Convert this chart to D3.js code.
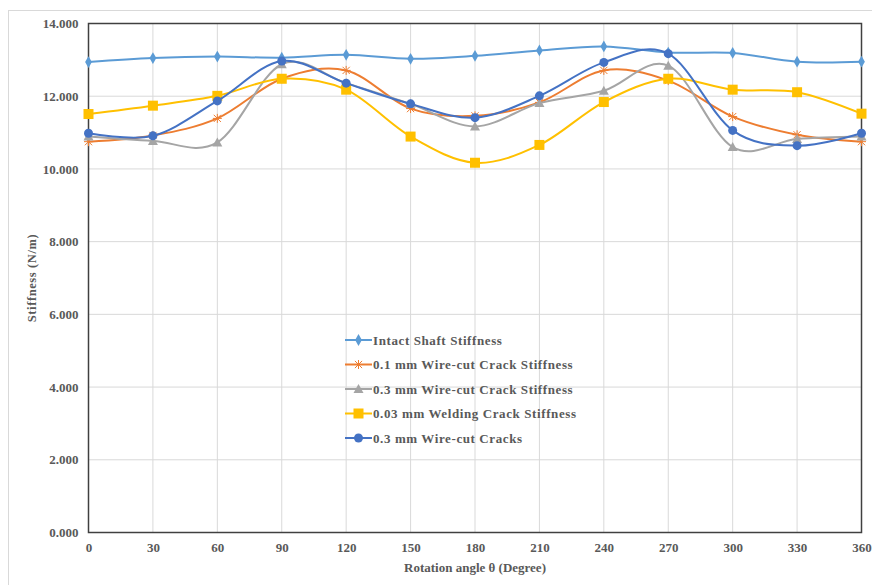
<!DOCTYPE html>
<html><head><meta charset="utf-8">
<script src="https://cdn.jsdelivr.net/npm/d3@7"></script>
<style>body{margin:0;background:#fff}svg{display:block}
text{font-family:"Liberation Serif","Times New Roman",serif;font-weight:bold;fill:#595959}</style>
</head><body><svg id="c" width="872" height="585"></svg>
<script>
const angles = [0,30,60,90,120,150,180,210,240,270,300,330,360];
const intact = [12.94,13.05,13.09,13.06,13.14,13.03,13.11,13.26,13.37,13.20,13.19,12.95,12.95];
const crack01 = [10.75,10.92,11.39,12.48,12.71,11.66,11.46,11.83,12.71,12.43,11.44,10.94,10.75];
const crack03 = [10.89,10.77,10.73,12.88,12.36,11.79,11.17,11.81,12.15,12.84,10.60,10.82,10.89];
const welding = [11.51,11.74,12.01,12.48,12.18,10.89,10.17,10.66,11.84,12.48,12.18,12.11,11.52];
const cracks03 = [10.98,10.91,11.87,12.97,12.36,11.79,11.41,12.01,12.93,13.17,11.06,10.64,10.98];
const seriesNames = ["Intact Shaft Stiffness","0.1 mm Wire-cut Crack Stiffness","0.3 mm Wire-cut Crack Stiffness","0.03 mm Welding Crack Stiffness","0.3 mm Wire-cut Cracks"];
const yTicks = [0,2,4,6,8,10,12,14];

const series = [
  {name:seriesNames[0], values:intact, color:"#5B9BD5", marker:"diamond"},
  {name:seriesNames[1], values:crack01, color:"#ED7D31", marker:"star"},
  {name:seriesNames[2], values:crack03, color:"#A5A5A5", marker:"triangle"},
  {name:seriesNames[3], values:welding, color:"#FFC000", marker:"square"},
  {name:seriesNames[4], values:cracks03, color:"#4472C4", marker:"circle"}
];

const svg = d3.select("#c");
const L=88.5, R=861.5, T=23.5, B=532.5;
const x = d3.scaleLinear().domain([0,360]).range([L,R]);
const y = d3.scaleLinear().domain([0,14]).range([B,T]);

svg.append("rect").attr("x",8.5).attr("y",10.5).attr("width",900).attr("height",600)
  .attr("fill","#fff").attr("stroke","#d9d9d9");

// grid
svg.append("g").selectAll("line").data(angles).join("line")
  .attr("x1",d=>x(d)).attr("x2",d=>x(d)).attr("y1",T).attr("y2",B)
  .attr("stroke","#d9d9d9").attr("stroke-width",1);
svg.append("g").selectAll("line").data(yTicks).join("line")
  .attr("x1",L).attr("x2",R).attr("y1",d=>y(d)).attr("y2",d=>y(d))
  .attr("stroke","#d9d9d9").attr("stroke-width",1);

// axes
const xAxis = d3.axisBottom(x).tickValues(angles).tickSize(0).tickPadding(10).tickFormat(d3.format("d"));
const gx = svg.append("g").attr("transform",`translate(0,${B})`).call(xAxis);
gx.attr("font-family",null).attr("font-size",null);
gx.select(".domain").remove();
gx.selectAll("text").style("font-size","13px");
const yAxis = d3.axisLeft(y).tickValues(yTicks).tickSize(0).tickPadding(10).tickFormat(d3.format(".3f"));
const gy = svg.append("g").attr("transform",`translate(${L},0)`).call(yAxis);
gy.attr("font-family",null).attr("font-size",null);
gy.select(".domain").remove();
gy.selectAll("text").style("font-size","13px");

svg.append("rect").attr("x",L).attr("y",T).attr("width",R-L).attr("height",B-T)
  .attr("fill","none").attr("stroke","#404040").attr("stroke-width",1.5);

// titles
svg.append("text").attr("x",(L+R)/2).attr("y",572).attr("text-anchor","middle")
  .style("font-size","13px").text("Rotation angle θ  (Degree)");
svg.append("text").attr("transform",`translate(36,${(T+B)/2}) rotate(-90)`).attr("text-anchor","middle")
  .style("font-size","12.5px").style("letter-spacing","0.6px").text("Stiffness  (N/m)");

const line = d3.line().x((d,i)=>x(angles[i])).y(d=>y(d)).curve(d3.curveCardinal.tension(0));

function drawMarker(g, type, cx, cy, color){
  if(type==="diamond"){
    g.append("path").attr("d",d3.symbol(d3.symbolDiamond,40)()).attr("transform",`translate(${cx},${cy})`).attr("fill",color);
  } else if(type==="star"){
    const s=4.5;
    const p=`M${-s},0L${s},0M0,${-s}L0,${s}M${-s*0.8},${-s*0.8}L${s*0.8},${s*0.8}M${-s*0.8},${s*0.8}L${s*0.8},${-s*0.8}`;
    g.append("path").attr("d",p).attr("transform",`translate(${cx},${cy})`).attr("stroke",color).attr("stroke-width",1).attr("fill","none");
  } else if(type==="triangle"){
    g.append("path").attr("d","M0,-5L5,4L-5,4Z").attr("transform",`translate(${cx},${cy})`).attr("fill",color);
  } else if(type==="square"){
    g.append("rect").attr("x",cx-5).attr("y",cy-5).attr("width",10).attr("height",10).attr("fill",color);
  } else {
    g.append("circle").attr("cx",cx).attr("cy",cy).attr("r",4.5).attr("fill",color);
  }
}

series.forEach(s=>{
  svg.append("path").attr("d",line(s.values)).attr("fill","none").attr("stroke",s.color).attr("stroke-width",2);
  const g = svg.append("g");
  s.values.forEach((v,i)=>drawMarker(g,s.marker,x(angles[i]),y(v),s.color));
});

// legend
const legY = [340,364.5,389,413.5,438];
series.forEach((s,i)=>{
  const g = svg.append("g");
  g.append("line").attr("x1",345).attr("x2",372).attr("y1",legY[i]).attr("y2",legY[i]).attr("stroke",s.color).attr("stroke-width",2);
  drawMarker(g,s.marker,358.5,legY[i],s.color);
  g.append("text").attr("x",373).attr("y",legY[i]+4.5).style("font-size","13px").style("letter-spacing","0.6px").text(s.name);
});
</script></body></html>
